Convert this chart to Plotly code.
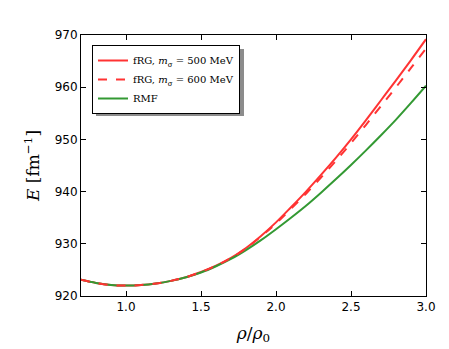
import plotly.graph_objects as go

rho = [0.7, 0.8, 0.9, 1.0, 1.1, 1.2, 1.3, 1.4, 1.5, 1.6, 1.7, 1.8, 1.9,
       2.0, 2.1, 2.2, 2.3, 2.4, 2.5, 2.6, 2.7, 2.8, 2.9, 3.0]

E_rmf = [923.1, 922.5, 922.1, 922.0, 922.1, 922.4, 922.9, 923.6, 924.5, 925.7,
         927.1, 928.8, 930.7, 932.8, 935.0, 937.3, 939.8, 942.4, 945.1, 947.9,
         950.8, 953.8, 957.0, 960.3]

E_frg500 = [923.1, 922.5, 922.1, 922.0, 922.1, 922.4, 922.9, 923.6, 924.6, 925.8,
            927.3, 929.2, 931.5, 934.1, 937.0, 940.0, 943.2, 946.5, 950.0, 953.7,
            957.5, 961.3, 965.2, 969.2]

E_frg600 = [923.1, 922.5, 922.1, 922.0, 922.1, 922.4, 922.9, 923.6, 924.6, 925.8,
            927.3, 929.1, 931.4, 933.9, 936.7, 939.6, 942.7, 945.9, 949.3, 952.8,
            956.4, 960.0, 963.7, 967.4]

x_ticks = [1.0, 1.5, 2.0, 2.5, 3.0]
y_ticks = [920, 930, 940, 950, 960, 970]

RED = "rgb(255,51,51)"
GREEN = "rgb(51,153,51)"
SERIF = "DejaVu Serif"

fig = go.Figure()
fig.add_trace(go.Scatter(x=rho, y=E_frg500, mode="lines", line=dict(color=RED, width=2, shape="spline"),
                         name="fRG, <i>m</i><sub>σ</sub> = 500 MeV", legendrank=1))
fig.add_trace(go.Scatter(x=rho, y=E_rmf, mode="lines", line=dict(color=GREEN, width=2, shape="spline"),
                         name="RMF", legendrank=3))
fig.add_trace(go.Scatter(x=rho, y=E_frg600, mode="lines", line=dict(color=RED, width=2, dash="dash", shape="spline"),
                         name="fRG, <i>m</i><sub>σ</sub> = 600 MeV", legendrank=2))

axis_common = dict(showline=True, linecolor="black", linewidth=1, mirror="ticks",
                   ticks="inside", ticklen=5, tickcolor="black", showgrid=False, zeroline=False,
                   tickfont=dict(family="DejaVu Sans", size=12, color="black"))

fig.update_xaxes(range=[0.7, 3.0], tickvals=x_ticks, ticktext=[f"{v:.1f}" for v in x_ticks],
                 title=dict(text="<i>ρ</i>/<i>ρ</i><sub>0</sub>", font=dict(family=SERIF, size=17, color="black"),
                            standoff=13), **axis_common)
fig.update_yaxes(range=[920, 970], tickvals=y_ticks,
                 title=dict(text="<i>E</i> [fm<sup>−1</sup>]", font=dict(family=SERIF, size=17, color="black"),
                            standoff=10), **axis_common)

# legend drop shadow
fig.add_shape(type="rect", xref="paper", yref="paper",
              x0=(96 - 81) / 345, x1=(244 - 81) / 345,
              y0=1 - (116 - 35) / 261, y1=1 - (49 - 35) / 261,
              fillcolor="rgb(140,140,140)", line=dict(width=0), layer="above")

fig.update_layout(
    width=449, height=349,
    margin=dict(l=73, r=31, t=27, b=61),
    plot_bgcolor="white", paper_bgcolor="white",
    legend=dict(x=(92 - 81) / 345, y=1 - (45 - 35) / 261, xanchor="left", yanchor="top",
                bgcolor="white", bordercolor="black", borderwidth=1,
                font=dict(family=SERIF, size=10, color="black"), tracegroupgap=0,
                itemwidth=30),
)

fig.write_html("out.html")
